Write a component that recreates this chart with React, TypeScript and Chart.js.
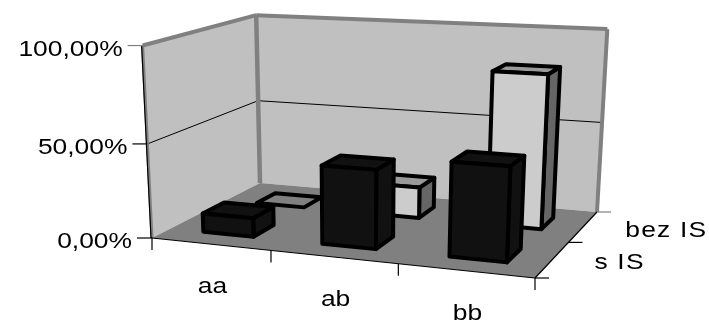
import React, { useEffect, useRef } from "react";
import { Chart, registerables } from "chart.js";

Chart.register(...registerables);

const categories = ["aa", "ab", "bb"];
const seriesNames = ["s IS", "bez IS"];
const sIS = [0.1, 0.41, 0.48];
const bezIS = [0, 0.17, 0.82];

// frame corners of the projected box (layout only)
const FL = [152, 238], FR = [535, 278], BR = [597, 212], BL = [260, 183];
const FLtop = [142, 47], BLtop = [257, 14], BRtop = [607, 29];
const DEPTH = 0.38;

function buildProjector() {
  const [x0, y0] = FL, [x1, y1] = FR, [x2, y2] = BR, [x3, y3] = BL;
  const dx1 = x1 - x2, dx2 = x3 - x2, sx = x0 - x1 + x2 - x3;
  const dy1 = y1 - y2, dy2 = y3 - y2, sy = y0 - y1 + y2 - y3;
  const den = dx1 * dy2 - dx2 * dy1;
  const g = (sx * dy2 - dx2 * sy) / den;
  const h = (dx1 * sy - sx * dy1) / den;
  const a = x1 - x0 + g * x1, b = x3 - x0 + h * x3, c = x0;
  const d = y1 - y0 + g * y1, e = y3 - y0 + h * y3, f = y0;
  const tops: [number[], number, number][] = [[FLtop, 0, 0], [BLtop, 0, 1], [BRtop, 1, 1]];
  const rows = tops.map(([p, u, v]) => {
    const q = g * u + h * v + 1;
    return { X: p[0], Y: p[1], Rx: p[0] * q - (a * u + b * v + c), Ry: p[1] * q - (d * u + e * v + f) };
  });
  const m = (k: "X" | "Y" | "Rx" | "Ry") => rows.reduce((s, r) => s + r[k], 0) / rows.length;
  const Xb = m("X"), Yb = m("Y"), Rxb = m("Rx"), Ryb = m("Ry");
  let nu = 0, de = 0;
  rows.forEach((r) => {
    nu += (r.X - Xb) * (r.Rx - Rxb) + (r.Y - Yb) * (r.Ry - Ryb);
    de += (r.X - Xb) ** 2 + (r.Y - Yb) ** 2;
  });
  const i = -nu / de;
  const cw = Rxb + Xb * i, fw = Ryb + Yb * i;
  return (u: number, v: number, w: number): [number, number] => {
    const q = g * u + h * v + i * w + 1;
    return [(a * u + b * v + cw * w + c) / q, (d * u + e * v + fw * w + f) / q];
  };
}

const P = buildProjector();

function poly(ctx: CanvasRenderingContext2D, pts: [number, number][], fill?: string, stroke?: string, lw = 1) {
  ctx.beginPath();
  pts.forEach((p, k) => (k ? ctx.lineTo(p[0], p[1]) : ctx.moveTo(p[0], p[1])));
  ctx.closePath();
  if (fill) {
    ctx.fillStyle = fill;
    ctx.fill();
  }
  if (stroke) {
    ctx.strokeStyle = stroke;
    ctx.lineWidth = lw;
    ctx.stroke();
  }
}

function line(ctx: CanvasRenderingContext2D, a: number[], b: number[], color: string, lw: number) {
  ctx.beginPath();
  ctx.moveTo(a[0], a[1]);
  ctx.lineTo(b[0], b[1]);
  ctx.strokeStyle = color;
  ctx.lineWidth = lw;
  ctx.stroke();
}

function label(ctx: CanvasRenderingContext2D, text: string, x: number, y: number, align: "left" | "right" | "center", spacing = "0px") {
  const stretch = 1.2;
  ctx.save();
  ctx.font = "22px 'Liberation Sans'";
  (ctx as any).letterSpacing = spacing;
  ctx.fillStyle = "#000";
  ctx.textBaseline = "alphabetic";
  ctx.textAlign = align;
  ctx.translate(x, y);
  ctx.scale(stretch, 1);
  ctx.fillText(text, 0, 0);
  ctx.restore();
}

const box3d = {
  id: "box3d",
  afterDatasetsDraw(chart: any) {
    const ctx: CanvasRenderingContext2D = chart.ctx;
    const xs = chart.scales.x, ys = chart.scales.y;
    const nSeries = chart.data.datasets.length;
    const nCat = categories.length;
    ctx.save();
    ctx.lineJoin = "round";

    // walls and floor
    const grey = "#808080";
    poly(ctx, [P(0, 0, 0), P(0, 1, 0), P(0, 1, 1), P(0, 0, 1)], "#C0C0C0");
    poly(ctx, [P(0, 1, 0), P(1, 1, 0), P(1, 1, 1), P(0, 1, 1)], "#C0C0C0");
    poly(ctx, [P(0, 0, 0), P(1, 0, 0), P(1, 1, 0), P(0, 1, 0)], grey);

    // gridlines
    ys.ticks.forEach((t: any) => {
      const w = (t.value - ys.min) / (ys.max - ys.min);
      if (w > 0 && w < 1) {
        line(ctx, P(0, 0, w), P(0, 1, w), "#000", 1);
        line(ctx, P(0, 1, w), P(1, 1, w), "#000", 1);
      }
    });
    // wall edges
    line(ctx, P(0, 0, 1), P(0, 1, 1), grey, 4);
    line(ctx, P(0, 1, 1), P(1, 1, 1), grey, 4);
    line(ctx, P(0, 1, 0), P(0, 1, 1), grey, 4.5);
    line(ctx, P(1, 1, 0), P(1, 1, 1), grey, 4);
    line(ctx, P(0, 0, 0), P(0, 0, 1), grey, 3);
    const e0 = P(0, 0, 0), e1 = P(0, 0, 1);
    line(ctx, [e0[0] - 1, e0[1]], [e1[0] - 1, e1[1]], "#000", 1.2);

    // axis lines
    line(ctx, P(0, 0, 0), P(1, 0, 0), "#000", 1.2);
    line(ctx, P(1, 0, 0), P(1, 1, 0), "#000", 1.2);

    // y ticks + labels
    ys.ticks.forEach((t: any) => {
      const w = (t.value - ys.min) / (ys.max - ys.min);
      const p = P(0, 0, w);
      line(ctx, [p[0] - 15, p[1]], p, w === 1 ? grey : "#000", 1.2);
      label(ctx, t.label, p[0] - 20, p[1] + 10, "right");
    });

    // x ticks + labels
    for (let k = 0; k <= nCat; k++) {
      const p = P(k / nCat, 0, 0);
      line(ctx, p, [p[0], p[1] + 12], "#000", 1.2);
    }
    xs.getLabels().forEach((txt: string, k: number) => {
      const p = P((k + 0.5) / nCat, 0, 0);
      label(ctx, txt, p[0] + 2, p[1] + 49, "center");
    });

    // depth ticks + labels
    for (let k = 0; k <= nSeries; k++) {
      const p = P(1, k / nSeries, 0);
      line(ctx, p, [p[0] + 14, p[1]], k === nSeries ? grey : "#000", 1.2);
    }
    chart.data.datasets.forEach((ds: any, k: number) => {
      const p = P(1, (k + 0.5) / nSeries, 0);
      label(ctx, ds.label, p[0] + 42, p[1] + 10, "left", "1px");
    });

    // bars, back series first, left to right
    for (let sI = nSeries - 1; sI >= 0; sI--) {
      const meta = chart.getDatasetMeta(sI);
      const st = chart.data.datasets[sI].face3d;
      meta.data.forEach((el: any) => {
        const um = (el.x - xs.left) / xs.width;
        const du = el.width / xs.width / 2;
        const u0 = um - du, u1 = um + du;
        const v0 = (sI + 0.5 - DEPTH / 2) / nSeries, v1 = (sI + 0.5 + DEPTH / 2) / nSeries;
        const raw = (ys.bottom - el.y) / ys.height;
        const flat = raw < 0.005;
        const w = flat ? 0 : raw;
        const bw = 4;
        if (flat) {
          poly(ctx, [P(u0, v0, 0), P(u1, v0, 0), P(u1, v1, 0), P(u0, v1, 0)], grey, "#000", bw);
          return;
        }
        poly(ctx, [P(u1, v0, 0), P(u1, v1, 0), P(u1, v1, w), P(u1, v0, w)], st.side, "#000", bw);
        poly(ctx, [P(u0, v0, w), P(u1, v0, w), P(u1, v1, w), P(u0, v1, w)], st.top, "#000", bw);
        poly(ctx, [P(u0, v0, 0), P(u1, v0, 0), P(u1, v0, w), P(u0, v0, w)], st.front, "#000", bw);
      });
    }
    ctx.restore();
  },
};

export default function App() {
  const ref = useRef<HTMLCanvasElement>(null);
  useEffect(() => {
    document.body.style.margin = "0";
    const chart = new Chart(ref.current!, {
      type: "bar",
      data: {
        labels: categories,
        datasets: [
          { label: seriesNames[0], data: sIS, backgroundColor: "transparent", face3d: { front: "#111111", top: "#111111", side: "#111111" } },
          { label: seriesNames[1], data: bezIS, backgroundColor: "transparent", face3d: { front: "#CCCCCC", top: "#999999", side: "#666666" } },
        ] as any,
      },
      options: {
        responsive: false,
        animation: false,
        layout: { padding: 0 },
        grouped: false,
        barPercentage: 0.43,
        categoryPercentage: 1,
        plugins: { legend: { display: false }, tooltip: { enabled: false } },
        scales: {
          x: { display: false },
          y: {
            display: false,
            min: 0,
            max: 1,
            ticks: {
              stepSize: 0.5,
              callback: (v: any) => (Number(v) * 100).toFixed(2).replace(".", ",") + "%",
            },
          },
        },
      } as any,
      plugins: [box3d],
    });
    return () => chart.destroy();
  }, []);
  return <canvas ref={ref} width={709} height={322} style={{ display: "block" }} />;
}
